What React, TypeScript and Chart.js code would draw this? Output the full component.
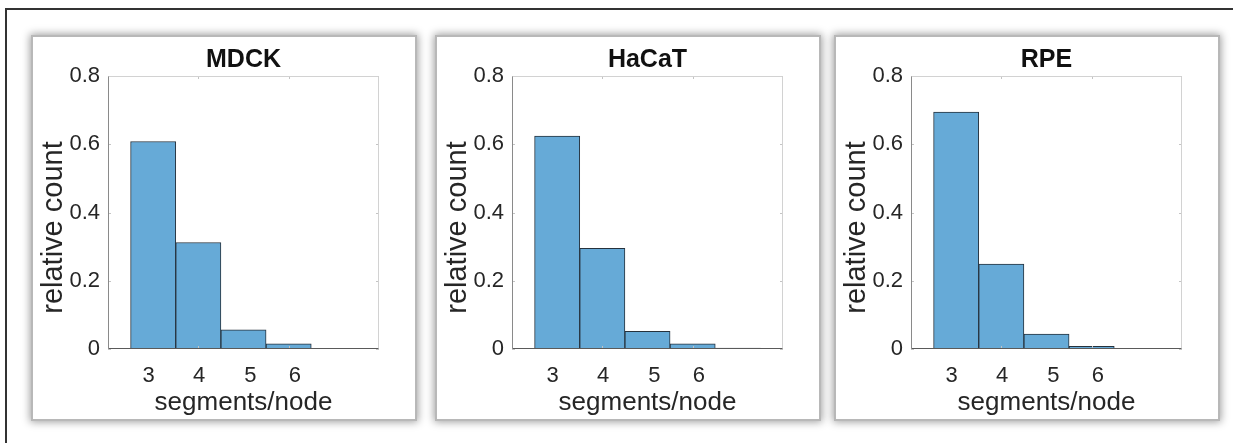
import React, { useEffect, useRef } from "react";
import { Chart, registerables } from "chart.js";

Chart.register(...registerables);

// ---- data ----
const panelTitles = ["MDCK", "HaCaT", "RPE"];
const segmentsPerNode = [3, 4, 5, 6, 7];
const mdckCounts = [0.608, 0.312, 0.056, 0.015, 0.002];
const hacatCounts = [0.624, 0.295, 0.052, 0.015, 0.003];
const rpeCounts = [0.694, 0.249, 0.044, 0.008, 0.0005];
const xTickLabels = ["3", "4", "5", "6"];
const xTickLabelPositions = [2.9, 4.02, 5.15, 6.14];
const xTickMarks = [4, 6];
const yTickValues = [0, 0.2, 0.4, 0.6, 0.8];
const xAxisLabel = "segments/node";
const yAxisLabel = "relative count";

const FONT = '"Liberation Sans", Arial, Helvetica, sans-serif';
const BAR_FILL = "rgb(102,170,215)";
const BAR_EDGE = "#26323d";
const PANEL_SIZE = 382;
const panelLefts = [33, 437, 836];
const PANEL_TOP = 37;
const X_MIN = 2;
const X_MAX = 8;

function makeDecor(title: string) {
  return {
    id: "decor",
    afterDatasetsDraw(chart: any) {
      const { ctx, chartArea: a, scales } = chart;
      ctx.save();
      ctx.lineWidth = 1;
      // inward tick marks
      ctx.strokeStyle = "#c4c4c4";
      ctx.beginPath();
      for (const v of xTickMarks) {
        const x = Math.round(scales.x.getPixelForValue(v)) + 0.5;
        ctx.moveTo(x, a.bottom);
        ctx.lineTo(x, a.bottom - 3);
        ctx.moveTo(x, a.top);
        ctx.lineTo(x, a.top + 3);
      }
      for (const v of yTickValues) {
        const y = Math.round(scales.y.getPixelForValue(v)) + 0.5;
        ctx.moveTo(a.left, y);
        ctx.lineTo(a.left + 3, y);
        ctx.moveTo(a.right, y);
        ctx.lineTo(a.right - 3, y);
      }
      ctx.stroke();
      // box
      const L = Math.round(a.left) + 0.5;
      const R = Math.round(a.right) - 0.5;
      const T = Math.round(a.top) + 0.5;
      const B = Math.round(a.bottom) - 0.5;
      ctx.strokeStyle = "#d2d2d2";
      ctx.beginPath();
      ctx.moveTo(L, T);
      ctx.lineTo(R, T);
      ctx.lineTo(R, B);
      ctx.stroke();
      ctx.strokeStyle = "#8a8a8a";
      ctx.beginPath();
      ctx.moveTo(L, T);
      ctx.lineTo(L, B);
      ctx.stroke();
      ctx.strokeStyle = "#5a5a5a";
      ctx.beginPath();
      ctx.moveTo(L, B);
      ctx.lineTo(R, B);
      ctx.stroke();
      ctx.restore();
    },
    afterDraw(chart: any) {
      const { ctx, chartArea: a } = chart;
      const cx = (a.left + a.right) / 2;
      ctx.save();
      ctx.fillStyle = "#111";
      ctx.textAlign = "center";
      ctx.textBaseline = "alphabetic";
      ctx.font = `bold 25px ${FONT}`;
      ctx.fillText(title, cx, a.top - 9.5);
      ctx.fillStyle = "#262626";
      ctx.font = `26px ${FONT}`;
      ctx.fillText(xAxisLabel, cx, a.bottom + 61);
      ctx.translate(a.left - 46, (a.top + a.bottom) / 2 + 15);
      ctx.rotate(-Math.PI / 2);
      ctx.font = `29px ${FONT}`;
      ctx.fillText(yAxisLabel, 0, 0);
      ctx.restore();
    },
  };
}

function Panel({ title, counts, left }: { title: string; counts: number[]; left: number }) {
  const ref = useRef<HTMLCanvasElement | null>(null);
  useEffect(() => {
    if (!ref.current) return;
    const chart = new Chart(ref.current, {
      type: "bar",
      data: {
        datasets: [
          {
            data: segmentsPerNode.map((s, i) => ({ x: s, y: counts[i] })),
            backgroundColor: BAR_FILL,
            borderColor: BAR_EDGE,
            borderWidth: 1,
            borderSkipped: false,
            barPercentage: 1,
            categoryPercentage: 1,
            xAxisID: "x",
          },
        ],
      },
      options: {
        animation: false,
        responsive: false,
        devicePixelRatio: 1,
        layout: { padding: { left: 0, right: 36, top: 39, bottom: 0 } },
        plugins: { legend: { display: false }, tooltip: { enabled: false }, title: { display: false } },
        scales: {
          x: {
            type: "linear",
            position: "bottom",
            min: X_MIN,
            max: X_MAX,
            offset: false,
            grid: { display: false, drawTicks: false },
            border: { display: false },
            ticks: { display: false, stepSize: 1 },
            afterFit: (scale: any) => {
              scale.height = 0;
            },
          },
          xLabels: {
            type: "linear",
            position: "bottom",
            axis: "x",
            min: X_MIN,
            max: X_MAX,
            offset: false,
            grid: { display: false, drawTicks: false },
            border: { display: false },
            afterBuildTicks: (scale: any) => {
              scale.ticks = xTickLabelPositions.map((v) => ({ value: v }));
            },
            afterFit: (scale: any) => {
              scale.height = 70;
            },
            ticks: {
              autoSkip: false,
              maxRotation: 0,
              padding: 14,
              color: "#262626",
              font: { family: FONT, size: 22 },
              callback: (_v: any, i: number) => xTickLabels[i],
            },
          },
          y: {
            min: 0,
            max: 0.8,
            grid: { display: false, drawTicks: false },
            border: { display: false },
            afterBuildTicks: (scale: any) => {
              scale.ticks = yTickValues.map((v) => ({ value: v }));
            },
            afterFit: (scale: any) => {
              scale.width = 75;
            },
            ticks: {
              padding: 8,
              color: "#262626",
              font: { family: FONT, size: 22 },
              callback: (v: any) => (Number(v) === 0 ? "0" : Number(v).toFixed(1)),
            },
          },
        },
      },
      plugins: [makeDecor(title)],
    } as any);
    return () => chart.destroy();
  }, [title, counts]);
  return (
    <div
      style={{
        position: "absolute",
        left,
        top: PANEL_TOP,
        width: PANEL_SIZE,
        height: PANEL_SIZE,
        background: "#fff",
        boxShadow: "0 0 0 2px #b8b8b8, 0 0 8px 3px rgba(0,0,0,0.38)",
      }}
    >
      <canvas ref={ref} width={PANEL_SIZE} height={PANEL_SIZE} style={{ display: "block" }} />
    </div>
  );
}

export default function App() {
  const series = [mdckCounts, hacatCounts, rpeCounts];
  return (
    <div
      style={{
        position: "absolute",
        left: 0,
        top: 0,
        width: 1233,
        height: 443,
        background: "#fff",
        overflow: "hidden",
      }}
    >
      <div
        style={{
          position: "absolute",
          left: 5,
          top: 8,
          width: 1240,
          height: 450,
          borderLeft: "2px solid #333",
          borderTop: "2px solid #333",
        }}
      />
      {panelTitles.map((t, i) => (
        <Panel key={t} title={t} counts={series[i]} left={panelLefts[i]} />
      ))}
    </div>
  );
}
